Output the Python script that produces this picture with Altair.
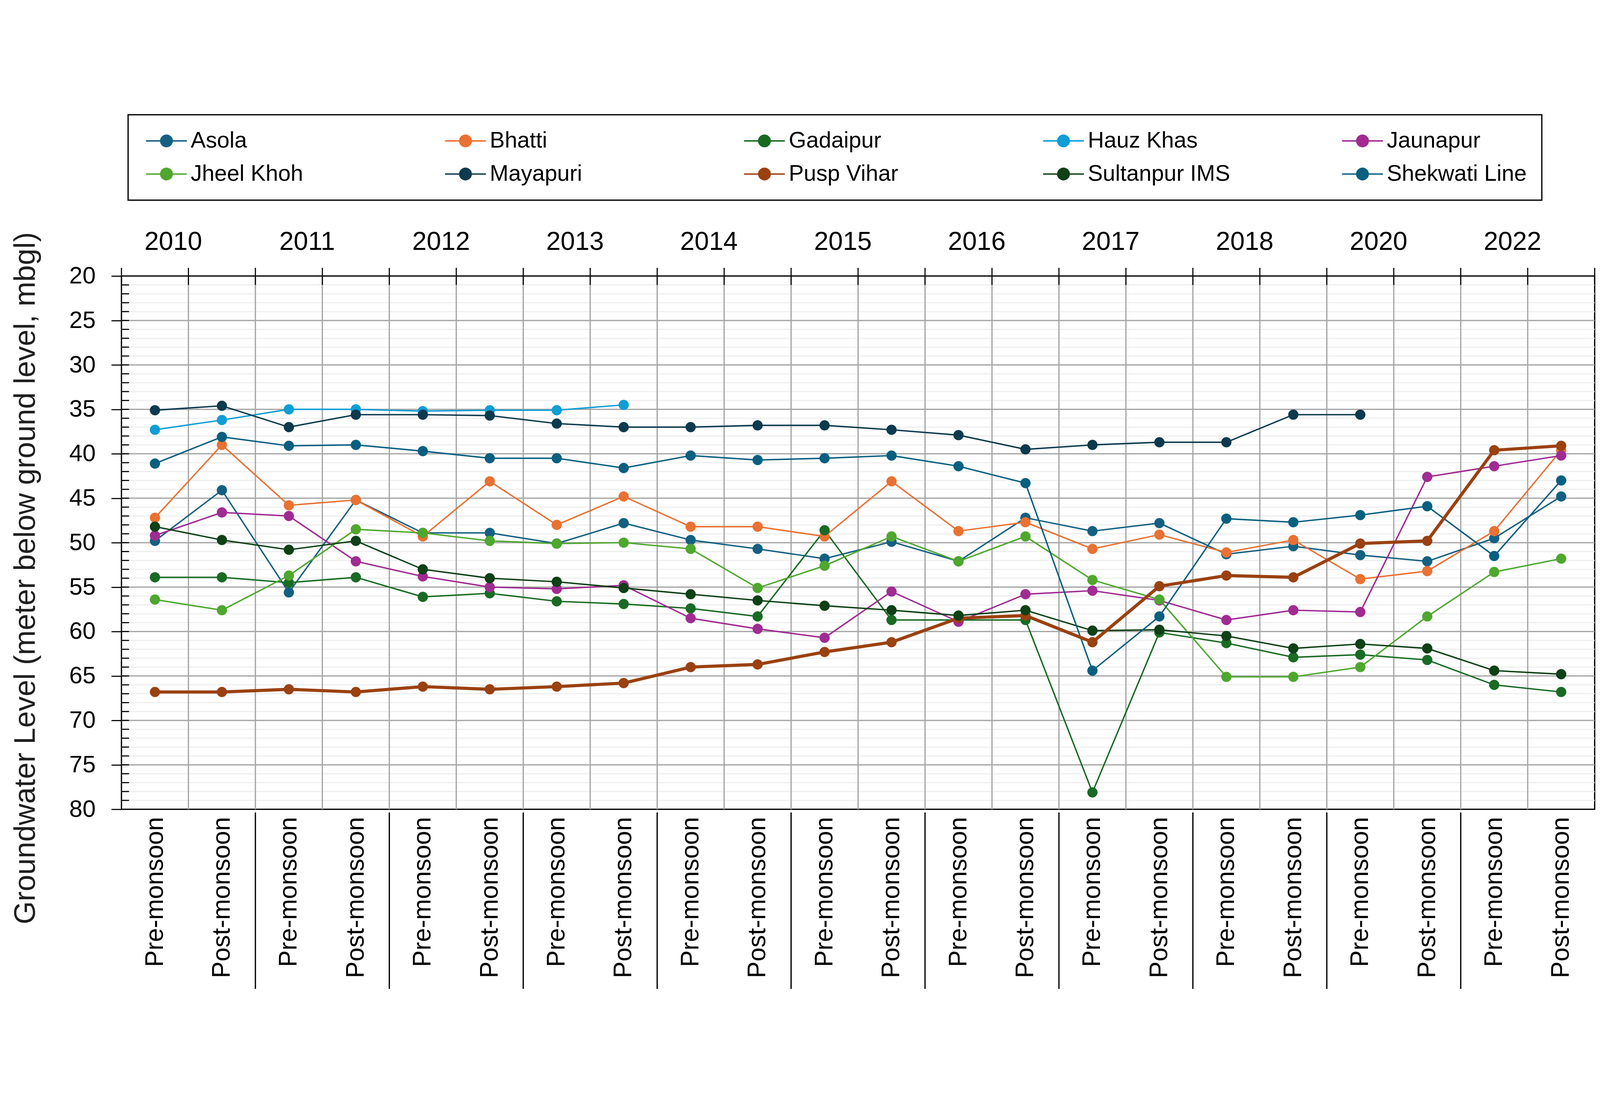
import altair as alt
import pandas as pd

# ---------------- data ----------------
years = ["2010", "2011", "2012", "2013", "2014", "2015", "2016", "2017", "2018", "2020", "2022"]
seasons = ["Pre-monsoon", "Post-monsoon"]

sites = ["Asola", "Bhatti", "Gadaipur", "Hauz Khas", "Jaunapur",
         "Jheel Khoh", "Mayapuri", "Pusp Vihar", "Sultanpur IMS", "Shekwati Line"]
colors = ["#156082", "#E97132", "#196B24", "#0F9ED5", "#A02B93",
          "#4EA72E", "#0D3A4E", "#9A4111", "#0F4016", "#095F80"]

asola = [49.8, 44.1, 55.6, 45.2, 48.9, 48.9, 50.1, 47.8, 49.7, 50.7, 51.8, 49.9,
         52.1, 47.2, 48.7, 47.8, 51.3, 50.4, 51.4, 52.1, 49.5, 44.8]
bhatti = [47.2, 39.0, 45.8, 45.2, 49.3, 43.1, 48.0, 44.8, 48.2, 48.2, 49.3, 43.1,
          48.7, 47.7, 50.7, 49.1, 51.1, 49.7, 54.1, 53.2, 48.7, 39.6]
gadaipur = [53.9, 53.9, 54.5, 53.9, 56.1, 55.7, 56.6, 56.9, 57.4, 58.3, 48.6, 58.7,
            58.7, 58.7, 78.1, 60.1, 61.3, 62.9, 62.6, 63.2, 66.0, 66.8]
hauz_khas = [37.3, 36.2, 35.0, 35.0, 35.2, 35.1, 35.1, 34.5, None, None, None, None,
             None, None, None, None, None, None, None, None, None, None]
jaunapur = [49.2, 46.6, 47.0, 52.1, 53.8, 55.0, 55.2, 54.8, 58.5, 59.7, 60.7, 55.5,
            58.9, 55.8, 55.4, 56.5, 58.7, 57.6, 57.8, 42.6, 41.4, 40.2]
jheel_khoh = [56.4, 57.6, 53.7, 48.5, 48.9, 49.8, 50.1, 50.0, 50.7, 55.1, 52.6, 49.3,
              52.1, 49.3, 54.2, 56.4, 65.1, 65.1, 64.0, 58.3, 53.3, 51.8]
mayapuri = [35.1, 34.6, 37.0, 35.6, 35.6, 35.7, 36.6, 37.0, 37.0, 36.8, 36.8, 37.3,
            37.9, 39.5, 39.0, 38.7, 38.7, 35.6, 35.6, None, None, None]
pusp_vihar = [66.8, 66.8, 66.5, 66.8, 66.2, 66.5, 66.2, 65.8, 64.0, 63.7, 62.3, 61.2,
              58.5, 58.2, 61.2, 54.9, 53.7, 53.9, 50.1, 49.8, 39.6, 39.1]
sultanpur = [48.2, 49.7, 50.8, 49.8, 53.0, 54.0, 54.4, 55.1, 55.8, 56.5, 57.1, 57.6,
             58.2, 57.6, 59.9, 59.8, 60.5, 61.9, 61.4, 61.9, 64.4, 64.8]
shekwati = [41.1, 38.1, 39.1, 39.0, 39.7, 40.5, 40.5, 41.6, 40.2, 40.7, 40.5, 40.2,
            41.4, 43.3, 64.4, 58.3, 47.3, 47.7, 46.9, 45.9, 51.5, 43.0]

series = [asola, bhatti, gadaipur, hauz_khas, jaunapur,
          jheel_khoh, mayapuri, pusp_vihar, sultanpur, shekwati]

y_ticks = [20, 25, 30, 35, 40, 45, 50, 55, 60, 65, 70, 75, 80]
thick_site = "Pusp Vihar"

# ---------------- tables built from the arrays ----------------
n_cat = len(years) * len(seasons)
rows = []
for s_name, vals in zip(sites, series):
    for k, v in enumerate(vals):
        if v is not None:
            rows.append({"Site": s_name, "idx": k, "Level": v})
df = pd.DataFrame(rows)

year_df = pd.DataFrame({"Year": years,
                        "pos": [i * len(seasons) + 0.5 for i in range(len(years))]})
bound_all = pd.DataFrame({"b": [k - 0.5 for k in range(n_cat + 1)]})
bound_inner = pd.DataFrame({"b": [k - 0.5 for k in range(1, n_cat)]})
bound_year = pd.DataFrame({"b": [i * len(seasons) - 0.5 for i in range(1, len(years))]})
major_grid = pd.DataFrame({"v": y_ticks[1:-1]})
minor_grid = pd.DataFrame({"v": [v for v in range(y_ticks[0] + 1, y_ticks[-1]) if v % 5 != 0]})
inner_ticks = pd.DataFrame({"v": list(range(y_ticks[0] + 1, y_ticks[-1]))})

FONT = "Liberation Sans"
W, H = 4656, 1686

xs = alt.Scale(domain=[-0.5, n_cat - 0.5], nice=False, zero=False)
ys = alt.Scale(domain=[y_ticks[0], y_ticks[-1]], reverse=True, nice=False, zero=False)
cs = alt.Scale(domain=sites, range=colors)

label_expr = f"datum.value % 2 == 0 ? '{seasons[0]}' : '{seasons[1]}'"
xaxis = alt.Axis(values=list(range(n_cat)), labelExpr=label_expr, labelAngle=270,
                 labelFont=FONT, labelFontSize=79, labelColor="black",
                 labelPadding=24, ticks=False, domain=False, grid=False,
                 labelOverlap=False, labelLimit=2000, title=None)
yaxis = alt.Axis(values=y_ticks, labelFont=FONT, labelFontSize=75,
                 labelColor="black", labelPadding=50, tickSize=32,
                 tickWidth=3.5, tickColor="black", domain=False, grid=False,
                 title="Groundwater Level (meter below ground level, mbgl)",
                 titleFont=FONT, titleFontSize=94, titleFontWeight="normal",
                 titleColor="#1f1f1f", titleAngle=270, titleX=-274, titleY=955,
                 titleBaseline="alphabetic", titleAlign="center")

# line with a dot, drawn to the right of the entry origin
legend_symbol = "M-1,0L4,0M0.8,0A0.7,0.7,0,1,0,2.2,0A0.7,0.7,0,1,0,0.8,0Z"
leg = alt.Legend(orient="none", legendX=21, legendY=-510, columns=5, direction="horizontal",
                 title=None, symbolType=legend_symbol, symbolSize=2663,
                 symbolStrokeWidth=4.5, symbolOpacity=1, labelFont=FONT,
                 labelFontSize=71, labelColor="black", labelOffset=80, rowPadding=33,
                 columnPadding=344, padding=47, gridAlign="all", labelLimit=1000,
                 strokeColor="black")

# ---------------- layers ----------------
minor = alt.Chart(minor_grid).mark_rule(color="#efefef", strokeWidth=4).encode(
    y=alt.Y("v:Q", scale=ys, axis=yaxis))
major = alt.Chart(major_grid).mark_rule(color="#a6a6a6", strokeWidth=4).encode(
    y=alt.Y("v:Q", scale=ys, axis=yaxis))
vgrid = alt.Chart(bound_inner).mark_rule(color="#a6a6a6", strokeWidth=4).encode(
    x=alt.X("b:Q", scale=xs, axis=xaxis))
in_ticks = alt.Chart(inner_ticks).mark_rule(color="black", strokeWidth=3.5).encode(
    y=alt.Y("v:Q", scale=ys, axis=yaxis), x=alt.value(0), x2=alt.value(24))
top_ticks = alt.Chart(bound_all).mark_rule(color="black", strokeWidth=3.5).encode(
    x=alt.X("b:Q", scale=xs, axis=xaxis), y=alt.value(-26), y2=alt.value(28))
year_sep = alt.Chart(bound_year).mark_rule(color="black", strokeWidth=4).encode(
    x=alt.X("b:Q", scale=xs, axis=xaxis), y=alt.value(H + 10), y2=alt.value(H + 568))
year_txt = alt.Chart(year_df).mark_text(font=FONT, fontSize=82, color="black",
                                        baseline="alphabetic", dx=-48).encode(
    x=alt.X("pos:Q", scale=xs, axis=xaxis), y=alt.value(-83), text="Year:N")

lines = alt.Chart(df).transform_filter(alt.datum.Site != thick_site).mark_line(
    strokeWidth=4.5).encode(
    x=alt.X("idx:Q", scale=xs, axis=xaxis),
    y=alt.Y("Level:Q", scale=ys, axis=yaxis),
    stroke=alt.Stroke("Site:N", scale=cs, legend=leg),
    order="idx:Q",
)
thick_line = alt.Chart(df).transform_filter(alt.datum.Site == thick_site).mark_line(
    strokeWidth=10).encode(
    x=alt.X("idx:Q", scale=xs, axis=xaxis),
    y=alt.Y("Level:Q", scale=ys, axis=yaxis),
    stroke=alt.Stroke("Site:N", scale=cs, legend=leg),
    order="idx:Q",
)

points = alt.Chart(df).mark_point(filled=True, shape="circle", size=1000, opacity=1,
                                  strokeWidth=1).encode(
    x=alt.X("idx:Q", scale=xs, axis=xaxis),
    y=alt.Y("Level:Q", scale=ys, axis=yaxis),
    fill=alt.Fill("Site:N", scale=cs, legend=leg),
    stroke=alt.Stroke("Site:N", scale=cs, legend=leg),
)

chart = alt.layer(minor, major, vgrid, in_ticks, top_ticks, year_sep, year_txt,
                  lines, thick_line, points).properties(
    width=W, height=H,
    padding={"left": 24, "top": 23, "right": 5, "bottom": 5},
).configure(font=FONT).configure_view(stroke="black", strokeWidth=4).configure_legend(
    strokeColor="black", strokeWidth=4)

chart.save("out.html", embed_options={"renderer": "svg", "actions": False})
